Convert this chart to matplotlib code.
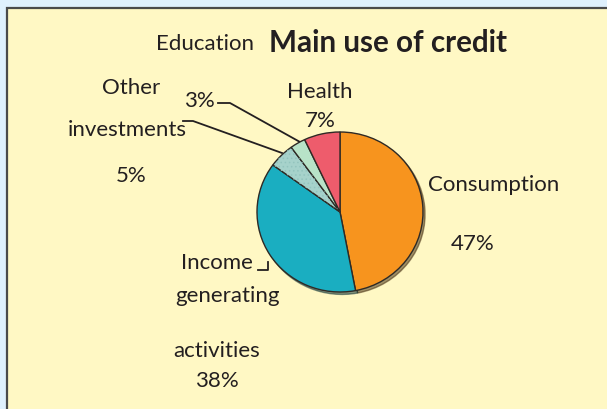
import matplotlib
matplotlib.use("Agg")
import matplotlib.pyplot as plt
from matplotlib.patches import Rectangle, Wedge

categories = ["Consumption", "Income generating activities", "Other investments", "Education", "Health"]
values = [47, 38, 5, 3, 7]
pct_labels = ["47%", "38%", "5%", "3%", "7%"]
colors = ["#F7941E", "#1AAEC1", "#A6D2CB", "#B8E3C8", "#EE5C6C"]
title = "Main use of credit"

plt.rcParams['font.family'] = ['Lato', 'DejaVu Sans']
plt.rcParams['hatch.linewidth'] = 0.6

W, H = 607, 410
fig = plt.figure(figsize=(W / 100, H / 100), dpi=100)
fig.patch.set_facecolor("#DFF0FD")

bg = fig.add_axes([0, 0, 1, 1])
bg.set_xlim(0, W)
bg.set_ylim(H, 0)
bg.axis("off")
bg.add_patch(Rectangle((7, 9), W + 20, H + 20, facecolor="#FFF8C4",
                       edgecolor="#4A4A4A", lw=1.6, zorder=0))

# pie axes
cx, cy, rx, ry = 340, 213, 83, 80
pax = fig.add_axes([(cx - rx) / W, 1 - (cy + ry) / H, 2 * rx / W, 2 * ry / H])
wedges, _ = pax.pie(values, colors=colors, startangle=90, counterclock=False,
                    radius=1.0, center=(0, 0), frame=False,
                    wedgeprops=dict(edgecolor="#2E2A25", linewidth=1.0),
                    shadow={'ox': 0.018, 'oy': -0.022, 'shade': 0.75})
pax.set_aspect("auto")
pax.set_xlim(-1.0, 1.0)
pax.set_ylim(-1.0, 1.0)
pax.axis("off")
# subtle texture on "Other investments"
w = wedges[2]
tex = Wedge(w.center, w.r, w.theta1, w.theta2, facecolor="none",
            edgecolor="#93C4BE", lw=0, hatch="....", zorder=w.get_zorder() + 0.1)
pax.add_patch(tex)

tc = "#231F20"
fs = 16
# title and labels
bg.text(388, 43, title, ha="center", va="center", fontsize=21.3, fontweight="bold", color=tc)
bg.text(205, 44, categories[3], ha="center", va="center", fontsize=fs, color=tc)
bg.text(199, 101, pct_labels[3], ha="center", va="center", fontsize=fs, color=tc)

bg.text(131, 88, "Other", ha="center", va="center", fontsize=fs, color=tc)
bg.text(127, 130, "investments", ha="center", va="center", fontsize=fs, color=tc)
bg.text(131, 176, pct_labels[2], ha="center", va="center", fontsize=fs, color=tc)

bg.text(320, 92, categories[4], ha="center", va="center", fontsize=fs, color=tc)
bg.text(320, 121, pct_labels[4], ha="center", va="center", fontsize=fs, color=tc)

bg.text(494, 185, categories[0], ha="center", va="center", fontsize=fs, color=tc)
bg.text(473, 244, pct_labels[0], ha="center", va="center", fontsize=fs, color=tc)

bg.text(217, 263, "Income", ha="center", va="center", fontsize=fs, color=tc)
bg.text(228, 296, "generating", ha="center", va="center", fontsize=fs, color=tc)
bg.text(217, 351, "activities", ha="center", va="center", fontsize=fs, color=tc)
bg.text(217, 381, pct_labels[1], ha="center", va="center", fontsize=fs, color=tc)

# leader lines
lc = "#231F20"
bg.plot([218, 230, 300], [104, 104, 143], color=lc, lw=1.3, zorder=5)
bg.plot([183, 193, 282], [122, 122, 154], color=lc, lw=1.3, zorder=5)
bg.plot([258, 268, 268], [271, 271, 263], color=lc, lw=1.3, zorder=5)

fig.savefig("out.png", dpi=100, facecolor=fig.get_facecolor())
